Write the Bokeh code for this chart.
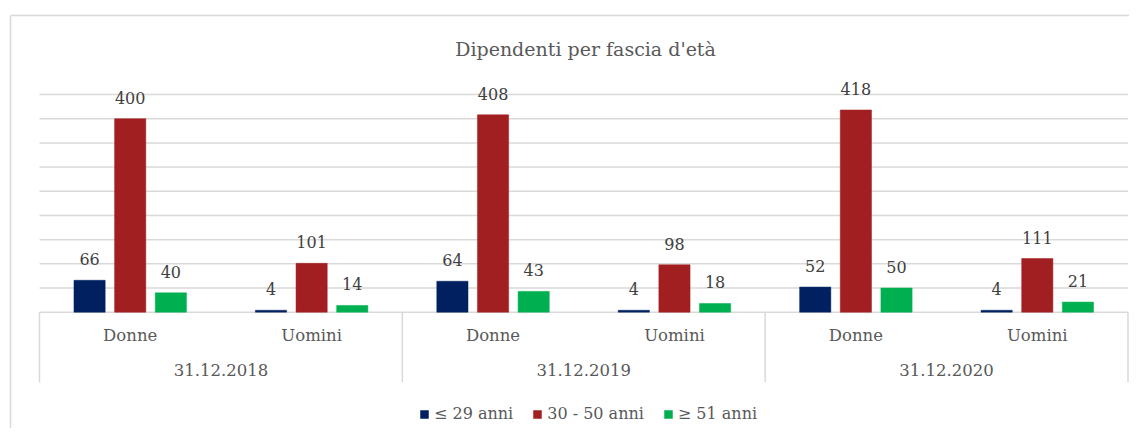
from bokeh.plotting import figure
from bokeh.models import ColumnDataSource, Range1d, Legend, LegendItem
from bokeh.embed import file_html
from bokeh.resources import INLINE
from bokeh.core.properties import value
from bokeh.transform import dodge

# ---------------- data ----------------
title_text = "Dipendenti per fascia d'età"
dates = ["31.12.2018", "31.12.2019", "31.12.2020"]
genders = ["Donne", "Uomini"]
series_names = ["≤ 29 anni", "30 - 50 anni", "≥ 51 anni"]
under_29 = [66, 4, 64, 4, 52, 4]
from_30_to_50 = [400, 101, 408, 98, 418, 111]
over_51 = [40, 14, 43, 18, 50, 21]
grid_values = [0, 50, 100, 150, 200, 250, 300, 350, 400, 450]
colors = ["#002060", "#A21F21", "#00B050"]

# ---------------- layout (pixels) ----------------
W, H = 1129, 428
plot_left, plot_right = 39, 1127.5         # canvas px
baseline_px = 311.7                        # canvas px of value 0
px_per_unit = (311.7 - 94.0) / 450.0       # vertical scale
n_slots = len(dates) * len(genders)
slot_px = (plot_right - plot_left) / n_slots

x0 = -plot_left / slot_px
x1 = (W - plot_left) / slot_px
y1 = baseline_px / px_per_unit
y0 = -(H - baseline_px) / px_per_unit

def dx(px):  # canvas px -> data x
    return x0 + px / slot_px

def dy(py):  # canvas py (from top) -> data y
    return y1 - py / px_per_unit

SERIF = value("DejaVu Serif")

p = figure(width=W, height=H, x_range=Range1d(x0, x1), y_range=Range1d(y0, y1),
           output_backend="svg", toolbar_location=None, title=None,
           x_axis_location=None, y_axis_location=None, min_border=0)
p.grid.visible = False
p.outline_line_color = None
p.background_fill_color = "white"
p.border_fill_color = "white"

# outer chart border (top and left, the rest is cropped)
p.segment(x0=[dx(10), dx(10)], y0=[dy(15), dy(15)], x1=[x1, dx(10)], y1=[dy(15), y0],
          line_color="#d9d9d9", line_width=1.5)

# horizontal gridlines
p.segment(x0=[0] * len(grid_values), x1=[n_slots] * len(grid_values),
          y0=grid_values, y1=grid_values, line_color="#d9d9d9", line_width=1.5)

# category separators
sep_x = [i * len(genders) for i in range(len(dates) + 1)]
sep_len = 70 / px_per_unit
p.segment(x0=sep_x, x1=sep_x, y0=[0] * len(sep_x), y1=[-sep_len] * len(sep_x),
          line_color="#d9d9d9", line_width=1.5)

# bars
xs = [i + 0.5 for i in range(n_slots)]
src = ColumnDataSource(dict(
    x=xs, v0=under_29, v1=from_30_to_50, v2=over_51,
    l0=[str(v) for v in under_29], l1=[str(v) for v in from_30_to_50],
    l2=[str(v) for v in over_51]))

offset = 0.224
bw = 0.172
renderers = []
for k, off in enumerate([-offset, 0.0, offset]):
    r = p.vbar(x=dodge("x", off), top=f"v{k}", bottom=0, width=bw, source=src,
               fill_color=colors[k], line_color=colors[k], line_width=0.5)
    renderers.append(r)
    p.text(x=dodge("x", off), y=f"v{k}", text=f"l{k}", source=src,
           text_font=SERIF, text_font_size="16px", text_color="#404040",
           text_align="center", text_baseline="middle", y_offset=-21)

# category labels
p.text(x=xs, y=[0] * n_slots, text=[g for _ in dates for g in genders],
       text_font=SERIF, text_font_size="16.5px", text_color="#595959",
       text_align="center", text_baseline="middle", y_offset=23.5)
p.text(x=[i * len(genders) + len(genders) / 2 for i in range(len(dates))],
       y=[0] * len(dates), text=dates,
       text_font=SERIF, text_font_size="16.5px", text_color="#595959",
       text_align="center", text_baseline="middle", y_offset=57.5)

# title
p.text(x=[dx(585)], y=[dy(48)], text=[title_text],
       text_font=SERIF, text_font_size="19px", text_color="#595959",
       text_align="center", text_baseline="middle")

legend = Legend(items=[LegendItem(label=series_names[k], renderers=[renderers[k]])
                       for k in range(3)],
                orientation="horizontal", location=(419, 5),
                glyph_width=10, glyph_height=10, label_standoff=5, spacing=19,
                padding=0, margin=0, border_line_color=None,
                background_fill_alpha=0,
                label_text_font="DejaVu Serif", label_text_font_size="16px",
                label_text_color="#595959")
p.add_layout(legend)

open("out.html", "w").write(file_html(p, INLINE))
